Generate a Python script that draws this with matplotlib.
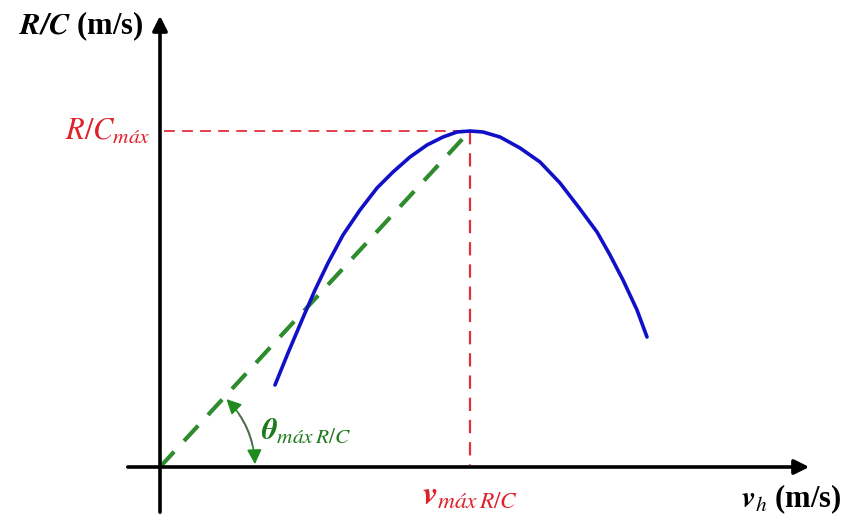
import numpy as np
import matplotlib.pyplot as plt

plt.rcParams['font.family'] = ['Liberation Serif', 'DejaVu Serif']
plt.rcParams['mathtext.fontset'] = 'stix'

# rate of climb curve R/C vs horizontal speed v_h (arbitrary units)
vh = [115, 128, 142, 155, 168, 183, 200, 217, 233, 250, 267, 283, 297, 310,
      323, 340, 360, 380, 400, 420, 437, 450, 463, 477, 487]
rc = [82, 114, 147, 177, 204, 232, 257, 279, 295, 310, 322, 330, 335, 336,
      335, 330, 319, 305, 284, 258, 235, 212, 187, 157, 130]

vh_max = 310
rc_max = 336

fig = plt.figure(figsize=(8.55, 5.17), dpi=100)
ax = fig.add_axes([0, 0, 1, 1])
ax.set_xlim(-160, 695)
ax.set_ylim(-50, 467)
ax.axis('off')

# axes with arrows
ax.annotate('', xy=(652, 0), xytext=(-35, 0),
            arrowprops=dict(arrowstyle='-|>', color='black', lw=2.6, mutation_scale=22))
ax.annotate('', xy=(0, 454), xytext=(0, -48),
            arrowprops=dict(arrowstyle='-|>', color='black', lw=2.6, mutation_scale=22))

# guides to the maximum
ax.plot([4, vh_max], [rc_max, rc_max], color='#e0303a', lw=1.3, ls=(0, (6, 4)))
ax.plot([vh_max, vh_max], [rc_max, 2], color='#e0303a', lw=1.6, ls=(0, (6, 4)))
ax.plot([0, vh_max - 3], [0, rc_max - 3], color='#2e8b2e', lw=3, ls=(0, (5, 3.5)))

ax.plot(vh, rc, color='#1010c8', lw=2.6, solid_capstyle='round', solid_joinstyle='round')

# angle arc
th = np.arctan2(rc_max, vh_max)
r = 95
p0 = (r, 0)
p1 = (r * np.cos(th), r * np.sin(th))
rad = np.tan(th / 4)
ax.annotate('', xy=p1, xytext=p0,
            arrowprops=dict(arrowstyle='<|-|>', color='#1f8a1f', lw=1.2,
                            mutation_scale=22, connectionstyle=f'arc3,rad={rad}'))
ax.annotate('', xy=p1, xytext=p0,
            arrowprops=dict(arrowstyle='-', color='#5a6a5a', lw=1.2, shrinkA=16, shrinkB=16,
                            connectionstyle=f'arc3,rad={rad}'))

# labels
ax.text(-141, 441, r'$\mathbfit{R/C}$ (m/s)', fontsize=22, fontweight='bold',
        va='center', ha='left')
ax.text(-9, 335, r'$\mathit{R/C}_{\mathit{máx}}$', fontsize=22, color='#e0202a',
        va='center', ha='right')
ax.text(vh_max, -28, r'$\mathbfit{v}_{\mathit{máx\,R/C}}$', fontsize=24, color='#e0202a',
        va='center', ha='center')
ax.text(101, 36, r'$\mathbfit{\theta}_{\mathit{máx\,R/C}}$', fontsize=22, color='#1f7a1f',
        va='center', ha='left')
ax.text(581, -32, r'$\mathbfit{v}_{\mathit{h}}$ (m/s)', fontsize=22, fontweight='bold',
        va='center', ha='left')

fig.savefig('out.png', dpi=100, facecolor='white')
